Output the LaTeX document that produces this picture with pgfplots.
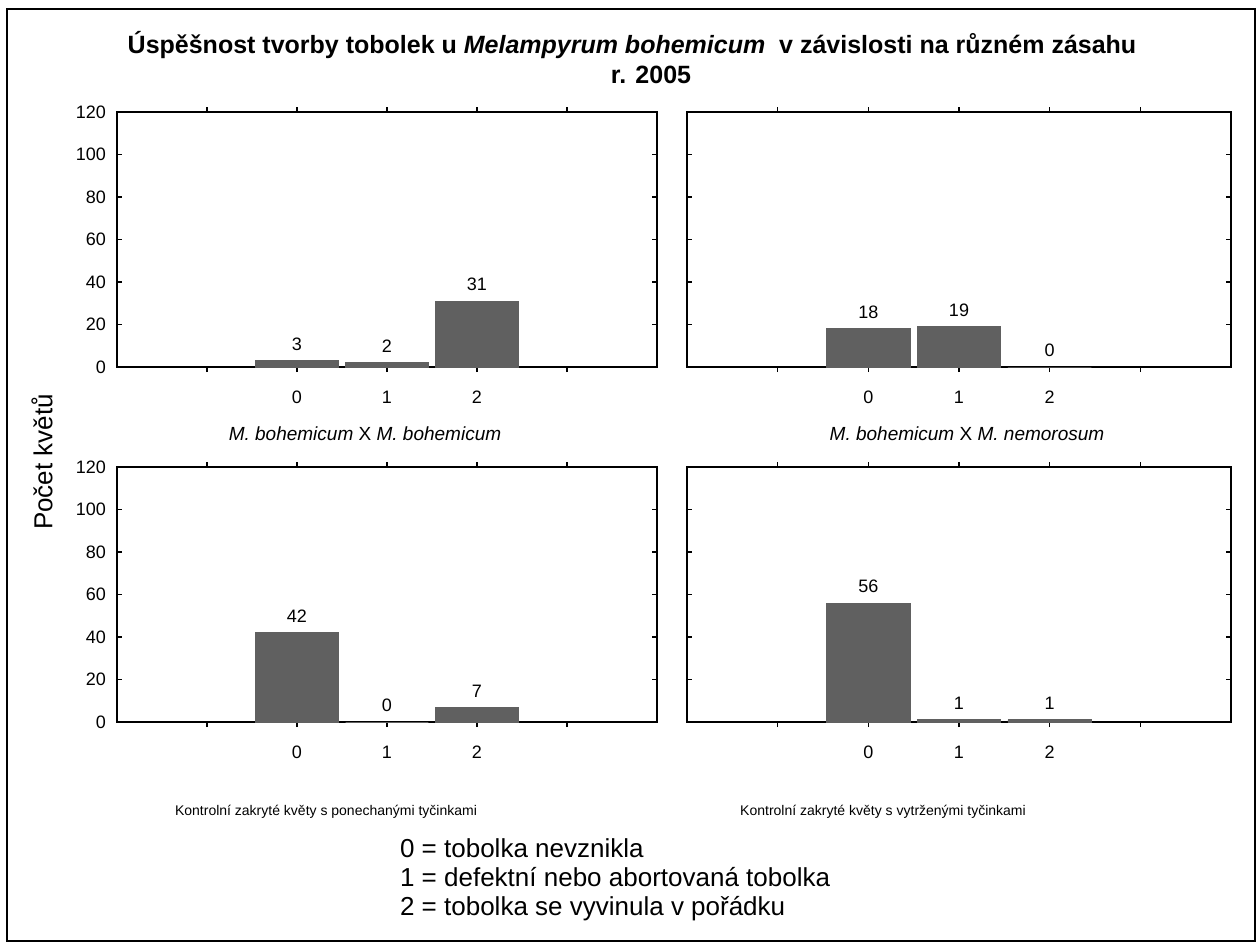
\documentclass[border=0pt]{standalone}
\usepackage{fontspec}
\setmainfont{Liberation Sans}
\usepackage{pgfplots}
\pgfplotsset{compat=1.18}
\definecolor{barc}{HTML}{606060}
\pgfplotsset{panel/.style={
  scale only axis, width=270pt, height=127.5pt,
  xmin=-2, xmax=4, ymin=0, ymax=120,
  xtick={-1,0,1,2,3}, xticklabels={,0,1,2,},
  ytick={0,20,...,120},
  tick align=inside, major tick length=2.5pt,
  axis line style={line width=0.9pt},
  every tick/.style={black, line width=0.8pt},
  /pgf/number format/assume math mode=true,
  tick label style={font=\fontsize{9}{10}\selectfont},
  yticklabel style={xshift=-2pt},
  xticklabel style={yshift=-6pt},
  ybar, bar width=0.92,
  nodes near coords,
  every node near coord/.append style={font=\fontsize{9}{10}\selectfont, yshift=1.5pt},
  clip=false,
}}
\begin{document}
\begin{tikzpicture}
\useasboundingbox[fill=white] (0pt,0pt) rectangle (629.5pt,-471.5pt);
\draw[line width=1pt] (3.5pt,-4.5pt) rectangle (627.5pt,-470.5pt);

\begin{axis}[panel, at={(58.5pt,-183.5pt)}, anchor=south west]
\addplot[fill=barc, draw=barc] coordinates {(0,3) (1,2) (2,31)};
\end{axis}
\begin{axis}[panel, width=272pt, yticklabels={}, at={(343.5pt,-183.5pt)}, anchor=south west]
\addplot[fill=barc, draw=barc] coordinates {(0,18) (1,19) (2,0)};
\end{axis}
\begin{axis}[panel, at={(58.5pt,-361pt)}, anchor=south west]
\addplot[fill=barc, draw=barc] coordinates {(0,42) (1,0) (2,7)};
\end{axis}
\begin{axis}[panel, width=272pt, yticklabels={}, at={(343.5pt,-361pt)}, anchor=south west]
\addplot[fill=barc, draw=barc] coordinates {(0,56) (1,1) (2,1)};
\end{axis}

\node[font=\fontsize{12.5}{15}\selectfont\bfseries] at (316pt,-22.5pt) {Úspěšnost tvorby tobolek u \textit{Melampyrum bohemicum}\ \ v závislosti na různém zásahu};
\node[font=\fontsize{12.5}{15}\selectfont\bfseries] at (325.5pt,-37.5pt) {r. 2005};
\node[rotate=90, font=\fontsize{13}{16}\selectfont] at (21pt,-231pt) {Počet květů};

\node[font=\fontsize{9.5}{11}\selectfont] at (182.5pt,-217pt) {\textit{M. bohemicum} X \textit{M. bohemicum}};
\node[font=\fontsize{9.5}{11}\selectfont] at (483.5pt,-217pt) {\textit{M. bohemicum} X \textit{M. nemorosum}};
\node[font=\fontsize{7}{8}\selectfont] at (163pt,-406pt) {Kontrolní zakryté květy s ponechanými tyčinkami};
\node[font=\fontsize{7}{8}\selectfont] at (441.5pt,-406pt) {Kontrolní zakryté květy s vytrženými tyčinkami};

\node[anchor=base west, font=\fontsize{13}{15}\selectfont] at (196.5pt,-428.75pt) {0 = tobolka nevznikla};
\node[anchor=base west, font=\fontsize{13}{15}\selectfont] at (196.5pt,-443.25pt) {1 = defektní nebo abortovaná tobolka};
\node[anchor=base west, font=\fontsize{13}{15}\selectfont] at (196.5pt,-457.75pt) {2 = tobolka se vyvinula v pořádku};
\end{tikzpicture}
\end{document}
